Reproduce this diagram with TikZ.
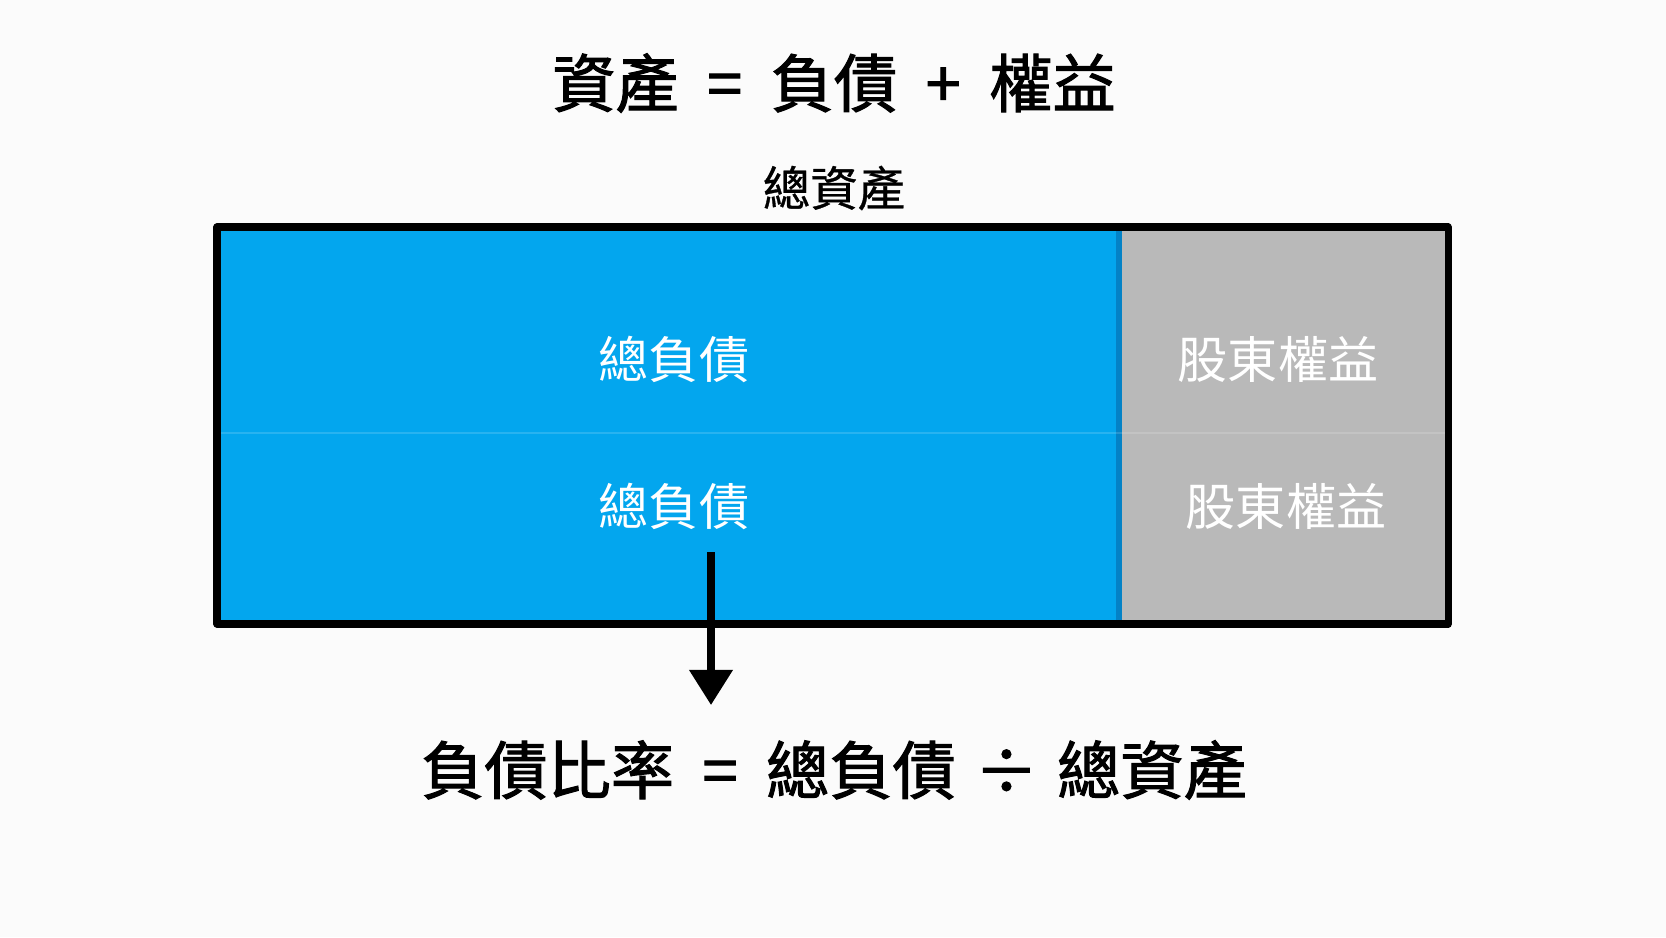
\documentclass[tikz,border=0pt]{standalone}
\usepackage{fontspec}
\setmainfont{Noto Sans CJK TC}
\newfontfamily\headfont[BoldFont={Noto Sans CJK TC}, BoldFeatures={FakeBold=1.6}]{Noto Sans CJK TC}
\newfontfamily\subfont[BoldFont={Noto Sans CJK TC}, BoldFeatures={FakeBold=0.7}]{Noto Sans CJK TC}
\usetikzlibrary{arrows.meta}
\definecolor{debtblue}{HTML}{03A6EE}
\definecolor{debtedge}{HTML}{0482C6}
\definecolor{equitygray}{HTML}{B9B9B9}
\definecolor{paper}{HTML}{FBFBFB}
\newcommand{\symgap}{\hspace{0.45em}}
\newcommand{\divgap}{\hspace{0.3em}}
\begin{document}
\begin{tikzpicture}[x=0.02cm, y=-0.02cm]
        % Canvas
        \fill[paper] (0,0) rectangle (1666,937);
        \useasboundingbox (0,0) rectangle (1666,937);

        % Headings
        \node[font=\fontsize{36}{40}\selectfont\headfont\bfseries] (eq) at (834,83) {資產\symgap{}=\symgap{}負債\symgap{}+\symgap{}權益};
        \node[font=\fontsize{27}{30}\selectfont\subfont\bfseries] (total) at (834,188) {總資產};

        % Bar: liabilities and equity
        \fill[debtblue] (217,227) rectangle (1120,624);
        \fill[equitygray] (1120,227) rectangle (1448,624);
        \draw[debtedge, line width=3.4pt] (1119,230) -- (1119,621);
        \draw[white, opacity=0.15, line width=0.8pt] (220,433) -- (1445,433);
        \draw[line width=4pt, line join=round] (217,227) rectangle (1448,624);

        % Labels
        \node[white, font=\fontsize{28.5}{32}\selectfont] (liab1) at (674,359) {總負債};
        \node[white, font=\fontsize{28.5}{32}\selectfont] (liab2) at (674,506) {總負債};
        \node[white, font=\fontsize{28.5}{32}\selectfont] (eqty1) at (1278,359) {股東權益};
        \node[white, font=\fontsize{28.5}{32}\selectfont] (eqty2) at (1286,506) {股東權益};

        % Ratio
        \node[font=\fontsize{36}{40}\selectfont\headfont\bfseries] (ratio) at (834,770) {負債比率\symgap{}=\symgap{}總負債\divgap{}÷\divgap{}總資產};
        \coordinate (arrtop) at (711,552);
        \coordinate (arrtip) at (711,705);
        \draw[-{Triangle[width=24pt, length=20pt]}, line width=4pt] (arrtop) -- (arrtip);
    \end{tikzpicture}
\end{document}
